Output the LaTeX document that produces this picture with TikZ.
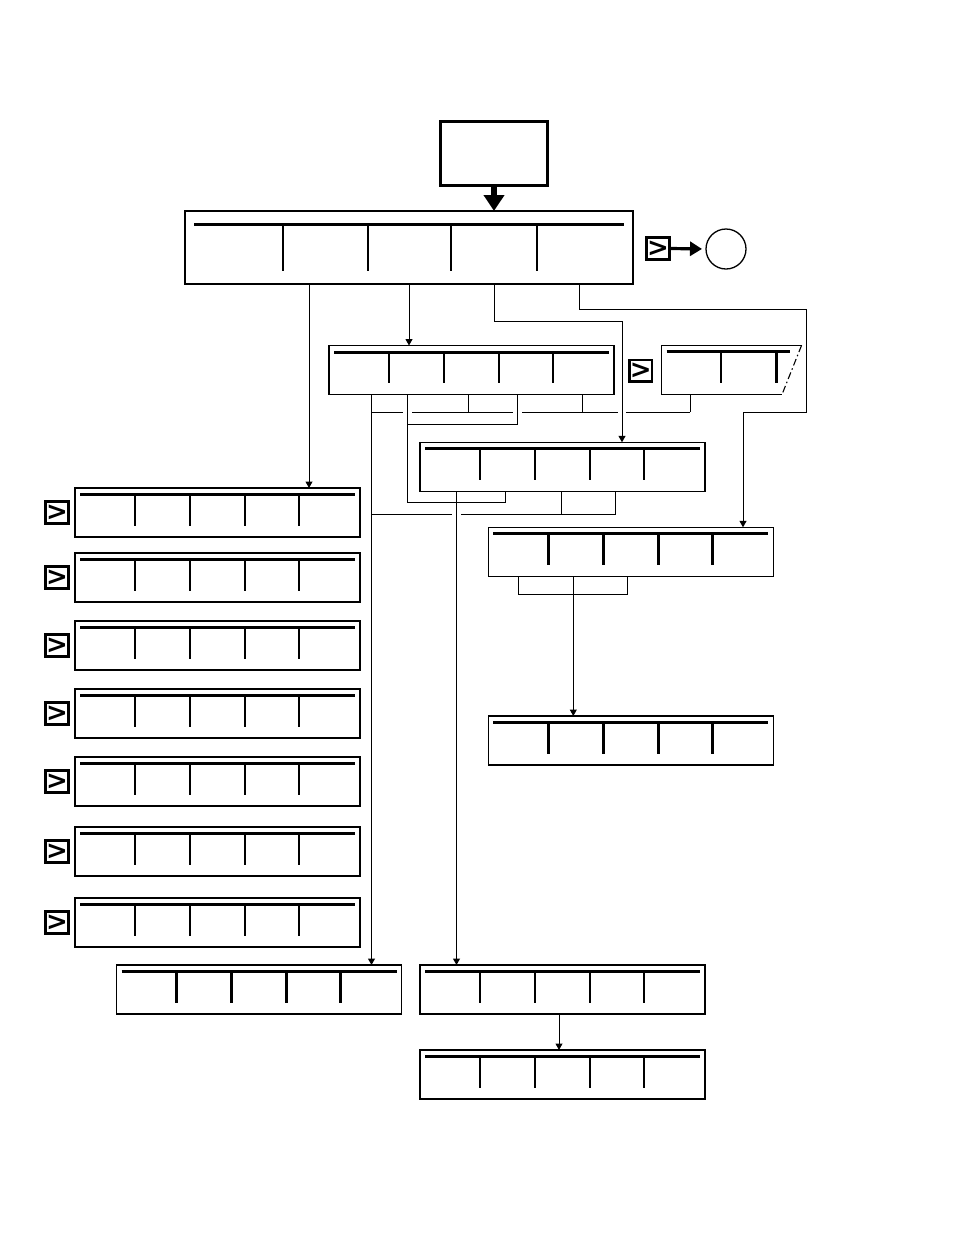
\documentclass[tikz,border=0pt]{standalone}
\usepackage{fontspec}
\newfontfamily\gtfont{DejaVu Sans}
\usetikzlibrary{arrows.meta}
\tikzset{
  conn/.style={line width=1pt, -{Triangle[width=7pt,length=6.5pt]}},
  wire/.style={line width=1pt},
  panel/.style={draw, line width=1.1pt, minimum width=285pt, minimum height=49pt,
    inner sep=0pt, outer sep=0pt, anchor=north west,
    path picture={
      \draw[line width=3pt] ([xshift=5pt,yshift=-6.5pt]path picture bounding box.north west)
        -- ([xshift=-5pt,yshift=-6.5pt]path picture bounding box.north east);
      \foreach \dx in {60,115,170,224}
        \draw[line width=2.6pt] ([xshift=\dx pt,yshift=-6.5pt]path picture bounding box.north west) -- ++(0pt,-31pt);
    }},
  mainpanel/.style={draw, line width=1.1pt, minimum width=448pt, minimum height=73pt,
    inner sep=0pt, outer sep=0pt, anchor=north west,
    path picture={
      \draw[line width=3pt] ([xshift=9pt,yshift=-13pt]path picture bounding box.north west)
        -- ([xshift=-9pt,yshift=-13pt]path picture bounding box.north east);
      \foreach \dx in {98,183,266,352}
        \draw[line width=2.6pt] ([xshift=\dx pt,yshift=-14.5pt]path picture bounding box.north west) -- ++(0pt,-45pt);
    }},
  gtbox/.style={draw, line width=2.6pt, minimum width=22.5pt, minimum height=21.5pt,
    inner sep=0pt, outer sep=0pt, font=\gtfont\bfseries\fontsize{26}{26}\selectfont},
  startbox/.style={draw, line width=3pt, minimum width=107pt, minimum height=64pt, inner sep=0pt, outer sep=0pt},
  endcirc/.style={draw, circle, line width=1.3pt, minimum size=40pt, inner sep=0pt, outer sep=0pt},
}
\begin{document}
\begin{tikzpicture}[x=1pt,y=-1pt]
\path[use as bounding box] (0,0) rectangle (954,1235);

% nodes
\node[startbox] (start) at (494,153.5) {};
\node[mainpanel] (main) at (185,211) {};
\node[gtbox] (gt0) at (658,248.5) {\makebox[0pt]{>}};
\node[endcirc] (circ) at (726,249) {};

\node[panel] (B2) at (329,345.5) {};
\node[gtbox] (gt2) at (640.8,370.8) {\makebox[0pt]{>}};
\node[minimum width=140pt, minimum height=49pt, inner sep=0pt, outer sep=0pt, anchor=north west] (B4) at (661.5,345.5) {};
\node[panel] (B3) at (420,442.3) {};
\node[panel] (B5) at (488.3,527.3) {};
\node[panel] (B6) at (488.3,716) {};

\foreach \n/\y in {1/488,2/553,3/621,4/689,5/757,6/827,7/898}{
  \node[panel] (L\n) at (75,\y) {};
  \node[gtbox] (g\n) at (57,\y+24.5) {\makebox[0pt]{>}};
}

\node[panel] (BL) at (116.5,965) {};
\node[panel] (BM) at (420,965) {};
\node[panel] (BB) at (420,1050) {};

% partial box B4
\draw[line width=1.1pt] (B4.north east) -- (B4.north west) -- (B4.south west) -- ([xshift=-19.5pt]B4.south east);
\draw[line width=1.1pt, dash pattern=on 7pt off 3pt on 1.5pt off 3pt] (B4.north east) -- ([xshift=-19.5pt]B4.south east);
\draw[line width=3pt] ([xshift=5pt,yshift=-6pt]B4.north west) -- ([xshift=128.5pt,yshift=-6pt]B4.north west);
\foreach \dx in {59.5,115}
  \draw[line width=2.6pt] ([xshift=\dx pt,yshift=-6pt]B4.north west) -- ++(0pt,-31pt);

% thick arrows
\draw[line width=5.5pt, -{Triangle[width=20pt,length=16pt]}] (start.south) -- (start.south |- main.north);
\draw[line width=3.2pt, -{Triangle[width=14pt,length=12pt]}, shorten >=4pt] ([xshift=1pt]gt0.east) -- (circ.west);

% connectors from main
\draw[conn] ([xshift=124pt]main.south west) -- ([xshift=234pt]L1.north west);
\draw[conn] (main.south) -- ([xshift=80pt]B2.north west);
\draw[conn] ([xshift=309pt]main.south west) |- (622,321) -- ([xshift=202pt]B3.north west);
\draw[conn] ([xshift=394.5pt]main.south west) |- (806.5,309) |- (743,412) -- ([xshift=254.7pt]B5.north west);

% from B2 / B4
\draw[conn] ([xshift=42.5pt]B2.south west) -- ([xshift=255pt]BL.north west);
\draw[wire] (371.5,412) -- (403,412) (412,412) -- (513,412) (522,412) -- (618,412) (626,412) -- (690,412);
\draw[wire] ([xshift=139.3pt]B2.south west) -- +(0,17.5);
\draw[wire] ([xshift=253.5pt]B2.south west) -- +(0,17.5);
\draw[wire] ([xshift=28.5pt]B4.south west) -- +(0,17.5);
\draw[wire] ([xshift=78.5pt]B2.south west) -- (407.5,502.3) -- (505.7,502.3) -- ([xshift=85.7pt]B3.south west);
\draw[wire] (407.5,424) -- (517.3,424) -- ([xshift=188.3pt]B2.south west);

% from B3
\draw[conn] ([xshift=36.5pt]B3.south west) -- ([xshift=36.5pt]BM.north west);
\draw[wire] (371.5,514.3) -- (452,514.3) (461,514.3) -- (615.7,514.3);
\draw[wire] ([xshift=141.3pt]B3.south west) -- (561.3,514.3);
\draw[wire] ([xshift=195.7pt]B3.south west) -- (615.7,514.3);

% from B5
\draw[wire] ([xshift=30pt]B5.south west) |- (627.3,594) -- ([xshift=139pt]B5.south west);
\draw[conn] ([xshift=85pt]B5.south west) -- ([xshift=85pt]B6.north west);

% bottom
\draw[conn] ([xshift=139pt]BM.south west) -- ([xshift=139pt]BB.north west);
\end{tikzpicture}
\end{document}
